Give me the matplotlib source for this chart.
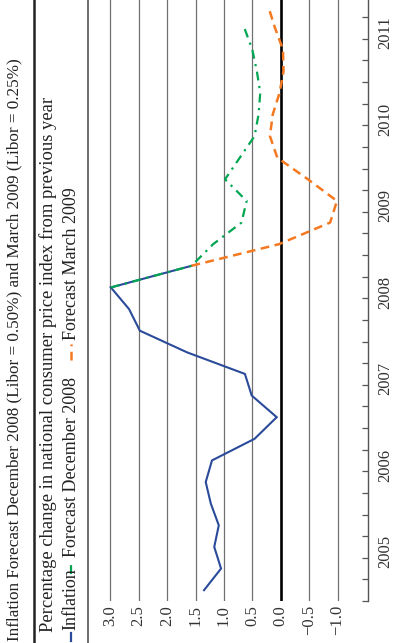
import matplotlib
matplotlib.use("Agg")
import matplotlib.pyplot as plt
import matplotlib.transforms as mtransforms
from matplotlib.lines import Line2D
import numpy as np

plt.rcParams['font.family'] = ['Liberation Serif', 'DejaVu Serif']

# quarterly data, mid-quarter, starting Q1 2005
t0 = 2005.125
inflation = [1.35, 1.05, 1.17, 1.09, 1.23, 1.32, 1.21, 0.46, 0.07, 0.51,
             0.63, 1.65, 2.48, 2.67, 2.99, 1.57]
dec2008_start = 14
dec2008 = [2.99, 1.57, 1.19, 0.69, 0.60, 0.98, 0.72, 0.46, 0.39, 0.36,
           0.42, 0.50, 0.64]
mar2009_start = 15
mar2009 = [1.57, 0.03, -0.87, -0.99, -0.48, 0.06, 0.19, 0.14, 0.02,
           -0.05, -0.04, 0.10, 0.22]

value_ticks = [3.0, 2.5, 2.0, 1.5, 1.0, 0.5, 0.0, -0.5, -1.0]
years = [2005, 2006, 2007, 2008, 2009, 2010, 2011]

title = "Inflation Forecast December 2008 (Libor = 0.50%) and March 2009 (Libor = 0.25%)"
subtitle = "Percentage change in national consumer price index from previous year"
legend_labels = ["Inflation", "Forecast December 2008", "Forecast March 2009"]

blue = "#2a4a9a"
green = "#00a651"
orange = "#f47920"

W, H = 396, 643
fig = plt.figure(figsize=(W / 100, H / 100), dpi=100)

def fx(px):
    return px / W

def fy(py):
    return 1 - py / H

ax = fig.add_axes([fx(100), fy(601), fx(367.7) - fx(100), 1 - fy(601)])

def qt(start, n):
    return [t0 + 0.25 * (start + i) for i in range(n)]

for v in value_ticks:
    if v == 0:
        ax.axvline(v, color="black", lw=1.9, zorder=1)
    else:
        ax.axvline(v, color="#707070", lw=0.9, zorder=1)

ax.plot(inflation, qt(0, len(inflation)), color=blue, lw=1.5, zorder=3,
        solid_joinstyle="miter")
ax.plot(dec2008, qt(dec2008_start, len(dec2008)), color=green, lw=1.6,
        linestyle=(0, (4, 2.5, 1, 2.5)), zorder=4)
ax.plot(mar2009, qt(mar2009_start, len(mar2009)), color=orange, lw=1.8,
        linestyle=(0, (3.5, 2.2)), zorder=4)

v_left = (280.7 - 100) / 56.8
v_right = (280.7 - 367.7) / 56.8
ax.set_xlim(v_left, v_right)
ax.set_ylim(2005.0, 2005.0 + 601 / 86.5)

for s in ["left", "top", "bottom"]:
    ax.spines[s].set_visible(False)
ax.spines["right"].set_color("#555555")
ax.spines["right"].set_linewidth(1.0)
ax.set_xticks([])
ax.yaxis.tick_right()
ax.set_yticks(np.arange(2005.0, 2012.0, 0.25))
ax.tick_params(axis="y", direction="in", length=4, width=0.9, color="#555555",
               labelright=False)

# value labels below the plot
tr = mtransforms.blended_transform_factory(ax.transData, fig.transFigure)
for v in value_ticks:
    lab = f"{v:.1f}".replace("-", "\u2212")
    fig.text(v, fy(605), lab, transform=tr, rotation=90, ha="center",
             va="top", fontsize=12, color="#333333")

# year labels on the right
tr2 = mtransforms.blended_transform_factory(fig.transFigure, ax.transData)
for y in years:
    fig.text(fx(385), y + 0.57, str(y), transform=tr2, rotation=90,
             ha="center", va="center", fontsize=12, color="#333333")

# header
fig.text(fx(14), fy(641), title, rotation=90, ha="center", va="bottom",
         fontsize=12.3, color="#222222")
fig.text(fx(48), fy(632), subtitle, rotation=90, ha="center", va="bottom",
         fontsize=13.4, color="#222222")
fig.add_artist(Line2D([fx(34), fx(34)], [0, 1], color="#222222", lw=1.8))
fig.add_artist(Line2D([fx(87.5), fx(87.5)], [0, 1], color="#444444", lw=1.1))

# legend
leg_x = fx(71)
fs_leg = 13.0
fig.add_artist(Line2D([leg_x, leg_x], [fy(641), fy(633)], color=blue, lw=1.6))
fig.text(leg_x, fy(630), legend_labels[0], rotation=90, ha="center",
         va="bottom", fontsize=fs_leg, color="#222222")
fig.add_artist(Line2D([leg_x, leg_x], [fy(574), fy(562)], color=green, lw=1.6,
                      linestyle=(0, (4, 2.5, 1, 2.5))))
fig.text(leg_x, fy(557), legend_labels[1], rotation=90, ha="center",
         va="bottom", fontsize=fs_leg, color="#222222")
fig.add_artist(Line2D([leg_x, leg_x], [fy(360), fy(344)], color=orange, lw=1.8,
                      linestyle=(0, (3.5, 2.2))))
fig.text(leg_x, fy(340), legend_labels[2], rotation=90, ha="center",
         va="bottom", fontsize=fs_leg, color="#222222")

fig.savefig("out.png", dpi=100)
